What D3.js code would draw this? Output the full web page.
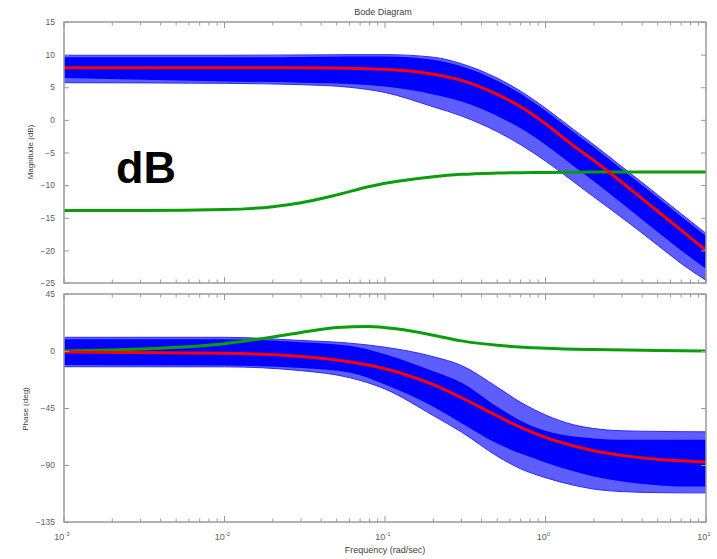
<!DOCTYPE html>
<html>
<head>
<meta charset="utf-8">
<script src="https://cdn.jsdelivr.net/npm/d3@7/dist/d3.min.js"></script>
<style>
  html, body { margin: 0; padding: 0; background: #ffffff; }
  svg { display: block; font-family: "Liberation Sans", Arial, sans-serif; }
</style>
</head>
<body>
<svg id="chart" width="717" height="559"></svg>
<script>
// ---------------- data ----------------
const freq = [0.001, 0.01, 0.03, 0.06, 0.1, 0.2, 0.3, 0.5, 0.7, 1, 1.5, 2, 3, 5, 7, 10];

// magnitude (dB)
const magRed     = [8.0, 8.0, 7.98, 7.9, 7.74, 7.0, 6.06, 3.9, 2.0, -0.6, -4.0, -6.2, -9.6, -14.0, -16.9, -20.0];
const magOuterUp = [9.9, 9.9, 9.95, 10.0, 10.0, 9.6, 8.6, 6.4, 4.4, 1.8, -1.5, -3.8, -7.2, -11.5, -14.4, -17.4];
const magCoreUp  = [9.6, 9.6, 9.65, 9.7, 9.7, 9.2, 8.2, 6.0, 4.0, 1.4, -1.9, -4.2, -7.6, -11.9, -14.8, -17.8];
const magCoreLo  = [6.4, 5.9, 5.7, 5.5, 5.1, 3.9, 2.8, 0.6, -1.3, -3.8, -7.1, -9.4, -12.8, -17.2, -20.0, -22.8];
const magOuterLo = [5.7, 5.6, 5.4, 5.0, 4.2, 2.0, 0.6, -1.8, -3.8, -6.3, -9.5, -11.8, -15.0, -19.2, -22.0, -24.6];

// phase (deg)
const phRed      = [-0.8, -1.8, -4.3, -8.5, -14, -26.6, -36.9, -51.3, -60.3, -68.2, -75, -78.7, -82.4, -85.4, -86.7, -87.7];
const phOuterUp  = [10.8, 10.8, 8.3, 6.2, 3.0, -4.5, -11.5, -28.5, -40.5, -50.5, -58.3, -61.2, -63.0, -63.5, -63.7, -63.8];
const phCoreUp   = [9.2, 9.2, 7.0, 4.2, -2.5, -16, -25, -44, -55, -63, -67.5, -69, -70, -70, -70, -70];
const phCoreLo   = [-11, -11.5, -13.5, -17, -26.5, -44, -57, -73, -81, -88, -95, -99, -103, -106, -107, -107];
const phOuterLo  = [-12.4, -12.5, -15.5, -21, -30, -51, -64, -83, -93, -100, -106, -109, -111, -111.8, -112, -112];

// green curve
const greenFreq  = [0.001, 0.003, 0.01, 0.02, 0.03, 0.05, 0.08, 0.12, 0.2, 0.3, 0.5, 1, 2, 5, 10];
const greenMag   = [-13.9, -13.9, -13.75, -13.3, -12.7, -11.5, -10.2, -9.4, -8.7, -8.35, -8.15, -8.05, -8.0, -8.0, -8.0];
const greenPhase = [0, 1.6, 5.8, 11, 14.6, 18.5, 19.4, 17.3, 12.5, 8.0, 4.5, 2.2, 1.1, 0.4, 0];

// ticks
const magTicks = [15, 10, 5, 0, -5, -10, -15, -20, -25];
const phTicks = [45, 0, -45, -90, -135];
const decadeTicks = [0.001, 0.01, 0.1, 1, 10];
const decadeExp = ["-3", "-2", "-1", "0", "1"];

// ---------------- layout ----------------
const svg = d3.select("#chart");
const L = 64, R = 706;
const magTop = 22, magBot = 283;
const phTop = 294, phBot = 522;

const x = d3.scaleLog().domain([1e-3, 10]).range([L, R]);
const yMag = d3.scaleLinear().domain([-25, 15]).range([magBot, magTop]);
const yPh = d3.scaleLinear().domain([-135, 45]).range([phBot, phTop]);

const frameColor = "#9a9a9a";
const textColor = "#606060";

const defs = svg.append("defs");
defs.append("clipPath").attr("id", "clipMag").append("rect")
  .attr("x", L).attr("y", magTop).attr("width", R - L).attr("height", magBot - magTop);
defs.append("clipPath").attr("id", "clipPh").append("rect")
  .attr("x", L).attr("y", phTop).attr("width", R - L).attr("height", phBot - phTop);

function pairs(fr, vals) { return fr.map((f, i) => [f, vals[i]]); }

function drawPanel(y, clipId, outerUp, coreUp, coreLo, outerLo, red, green) {
  const g = svg.append("g").attr("clip-path", `url(#${clipId})`);
  const area = (up, lo) => d3.area()
    .x((d, i) => x(freq[i]))
    .y0((d, i) => y(lo[i]))
    .y1((d, i) => y(up[i]))
    .curve(d3.curveMonotoneX)(freq);
  const line = d3.line().x(d => x(d[0])).y(d => y(d[1])).curve(d3.curveMonotoneX);

  // outer fringe of the trace family
  g.append("path").attr("d", area(outerUp, outerLo)).attr("fill", "#5e5eff");
  // fringe edge traces
  [outerUp, outerLo].forEach(arr => {
    g.append("path").attr("d", line(pairs(freq, arr)))
      .attr("fill", "none").attr("stroke", "#2a2aff").attr("stroke-width", 1);
  });
  // dense core of the trace family
  g.append("path").attr("d", area(coreUp, coreLo)).attr("fill", "#0000ff");

  // green
  g.append("path").attr("d", line(pairs(greenFreq, green)))
    .attr("fill", "none").attr("stroke", "#0a9e0a").attr("stroke-width", 3);
  // red nominal
  g.append("path").attr("d", line(pairs(freq, red)))
    .attr("fill", "none").attr("stroke", "#ff0000").attr("stroke-width", 3);
}

drawPanel(yMag, "clipMag", magOuterUp, magCoreUp, magCoreLo, magOuterLo, magRed, greenMag);
drawPanel(yPh, "clipPh", phOuterUp, phCoreUp, phCoreLo, phOuterLo, phRed, greenPhase);

// ---------------- axes ----------------
const minorX = [];
for (let d = -3; d < 1; d++) for (let k = 2; k <= 9; k++) minorX.push(k * Math.pow(10, d));

function xTicks(yPos, dir) { // dir: +1 ticks point down, -1 point up
  const g = svg.append("g");
  g.selectAll("line.minor").data(minorX).enter().append("line")
    .attr("x1", d => x(d)).attr("x2", d => x(d))
    .attr("y1", yPos).attr("y2", yPos + dir * 3.5)
    .attr("stroke", frameColor).attr("stroke-width", 1);
  g.selectAll("line.major").data(decadeTicks).enter().append("line")
    .attr("x1", d => x(d)).attr("x2", d => x(d))
    .attr("y1", yPos).attr("y2", yPos + dir * 6)
    .attr("stroke", frameColor).attr("stroke-width", 1);
}

function yAxis(y, ticks) {
  const left = svg.append("g").attr("transform", `translate(${L},0)`)
    .call(d3.axisLeft(y).tickValues(ticks).tickSize(-5).tickPadding(9).tickFormat(d3.format("d")));
  left.select(".domain").remove();
  left.selectAll("line").attr("stroke", frameColor);
  left.selectAll("text").attr("fill", textColor).attr("font-size", 8.5)
    .attr("font-family", "'Liberation Sans', Arial, sans-serif");
  const right = svg.append("g").attr("transform", `translate(${R},0)`)
    .call(d3.axisRight(y).tickValues(ticks).tickSize(-5).tickFormat(""));
  right.select(".domain").remove();
  right.selectAll("line").attr("stroke", frameColor);
}

yAxis(yMag, magTicks);
yAxis(yPh, phTicks);
xTicks(magTop, 1); xTicks(magBot, -1);
xTicks(phTop, 1); xTicks(phBot, -1);

// frames
[[magTop, magBot], [phTop, phBot]].forEach(([t, b]) => {
  svg.append("rect").attr("x", L).attr("y", t).attr("width", R - L).attr("height", b - t)
    .attr("fill", "none").attr("stroke", frameColor).attr("stroke-width", 1.5);
});

// x tick labels with superscripts
const xl = svg.append("g");
decadeTicks.forEach((v, i) => {
  const t = xl.append("text").attr("x", x(v) - 2).attr("y", 540)
    .attr("text-anchor", "middle").attr("fill", textColor).attr("font-size", 9);
  t.append("tspan").text("10");
  t.append("tspan").attr("dy", -4).attr("font-size", 6).text(decadeExp[i]);
});

// titles / labels
svg.append("text").attr("x", 383).attr("y", 15).attr("text-anchor", "middle")
  .attr("fill", "#404040").attr("font-size", 9).text("Bode Diagram");
svg.append("text").attr("x", 385).attr("y", 553).attr("text-anchor", "middle")
  .attr("fill", "#404040").attr("font-size", 9).text("Frequency  (rad/sec)");
svg.append("text").attr("transform", "translate(33,152) rotate(-90)").attr("text-anchor", "middle")
  .attr("fill", "#404040").attr("font-size", 8).text("Magnitude (dB)");
svg.append("text").attr("transform", "translate(28,409) rotate(-90)").attr("text-anchor", "middle")
  .attr("fill", "#404040").attr("font-size", 8).text("Phase (deg)");

// big annotation
svg.append("text").attr("x", 116).attr("y", 183)
  .attr("font-size", 45).attr("font-weight", "bold").attr("fill", "#000000")
  .attr("font-family", "'Liberation Sans', Arial, sans-serif").text("dB");
</script>
</body>
</html>
